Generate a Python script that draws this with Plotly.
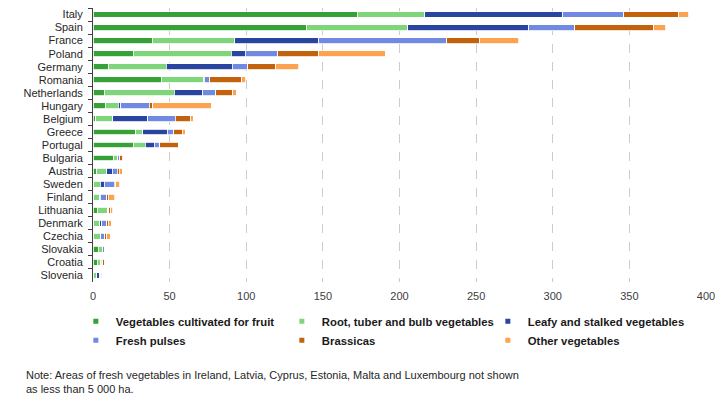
import plotly.graph_objects as go

countries = ["Italy", "Spain", "France", "Poland", "Germany", "Romania", "Netherlands",
             "Hungary", "Belgium", "Greece", "Portugal", "Bulgaria", "Austria", "Sweden",
             "Finland", "Lithuania", "Denmark", "Czechia", "Slovakia", "Croatia", "Slovenia"]

fruit    = [172.5, 139.4, 38.5, 26.1, 10.2, 44.4, 7.2, 8.3, 1.8, 27.9, 26.1, 13.5, 2.6, 0.5, 0.4, 2.8, 0.5, 0.6, 3.3, 2.8, 0.4]
root     = [43.9, 66.1, 53.9, 64.2, 37.7, 27.8, 45.9, 8.3, 11.2, 4.7, 8.1, 2.5, 6.5, 4.3, 3.9, 6.6, 3.9, 4.2, 2.6, 2.4, 2.2]
leafy    = [90.2, 78.7, 54.8, 9.1, 43.0, 0.5, 18.5, 1.5, 22.7, 15.7, 5.9, 0.3, 3.5, 2.6, 0.4, 0.2, 1.3, 0.4, 0.3, 0.2, 1.4]
pulses   = [39.6, 30.0, 83.7, 21.3, 10.2, 3.6, 8.6, 18.7, 18.1, 4.5, 3.6, 1.2, 3.1, 6.5, 4.4, 0.6, 3.4, 2.6, 1.4, 0.9, 0.5]
brassica = [36.1, 51.6, 21.4, 26.7, 18.1, 20.7, 11.1, 2.1, 9.9, 5.3, 12.0, 1.5, 1.3, 1.1, 0.9, 1.5, 0.7, 1.1, 0.0, 1.3, 0.4]
other    = [6.5, 7.8, 25.6, 43.3, 15.0, 2.6, 2.2, 38.3, 1.8, 2.2, 0.0, 0.8, 2.2, 2.6, 4.2, 1.2, 2.2, 2.2, 0.3, 0.3, 0.8]

series_names = ["Vegetables cultivated for fruit", "Root, tuber and bulb vegetables",
                "Leafy and stalked vegetables", "Fresh pulses", "Brassicas", "Other vegetables"]
series_values = [fruit, root, leafy, pulses, brassica, other]
colors = ["#36a136", "#7fd67a", "#2a45a0", "#6f8ae0", "#c2620c", "#fda24f"]

x_ticks = [0, 50, 100, 150, 200, 250, 300, 350, 400]

note = ("Note: Areas of fresh vegetables in Ireland, Latvia, Cyprus, Estonia, Malta and Luxembourg not shown"
        "<br>as less than 5 000 ha.")

FONT = "Liberation Sans, Arial, sans-serif"

fig = go.Figure()
for name, vals, col in zip(series_names, series_values, colors):
    fig.add_trace(go.Bar(
        y=countries, x=vals, name=name, orientation="h",
        marker=dict(color=col, line=dict(color="white", width=0.8)),
        showlegend=False,
    ))
# legend entries with small square markers
for name, col in zip(series_names, colors):
    fig.add_trace(go.Scatter(
        x=[None], y=[None], mode="markers", name=name,
        marker=dict(symbol="square", size=5, color=col),
    ))

fig.update_layout(
    width=728, height=398,
    barmode="stack", bargap=0.55,
    plot_bgcolor="white", paper_bgcolor="white",
    margin=dict(l=93, r=22, t=8, b=116),
    font=dict(family=FONT, size=11, color="#262626"),
    showlegend=True,
    legend=dict(
        orientation="h", x=-0.028, xanchor="left", y=-0.09, yanchor="top",
        font=dict(family=FONT, size=11.3, color="#1a1a1a", weight="bold"),
        entrywidth=161, entrywidthmode="pixels",
        itemclick=False, itemdoubleclick=False,
        traceorder="normal", tracegroupgap=0,
    ),
    annotations=[dict(
        text=note, xref="paper", yref="paper", x=-0.1126, y=-0.312,
        xanchor="left", yanchor="top", align="left", showarrow=False,
        font=dict(family=FONT, size=11, color="#262626"),
    )],
)
fig.update_xaxes(
    range=[0, 400], tickvals=x_ticks, showline=False, zeroline=False,
    showgrid=True, gridcolor="#cccccc", griddash="dash", gridwidth=1,
    ticks="outside", ticklen=4, tickcolor="rgba(0,0,0,0)",
    tickfont=dict(size=11, color="#404040"), fixedrange=True,
)
fig.update_yaxes(
    autorange="reversed", showline=True, linecolor="#404040", linewidth=1,
    ticks="outside", tickson="boundaries", ticklen=4, tickcolor="#404040",
    ticklabelstandoff=7,
    showgrid=False, tickfont=dict(size=11, color="#262626"), fixedrange=True,
)

fig.write_html("out.html", config={"displayModeBar": False},
               post_script="document.body.style.margin='0px';")
